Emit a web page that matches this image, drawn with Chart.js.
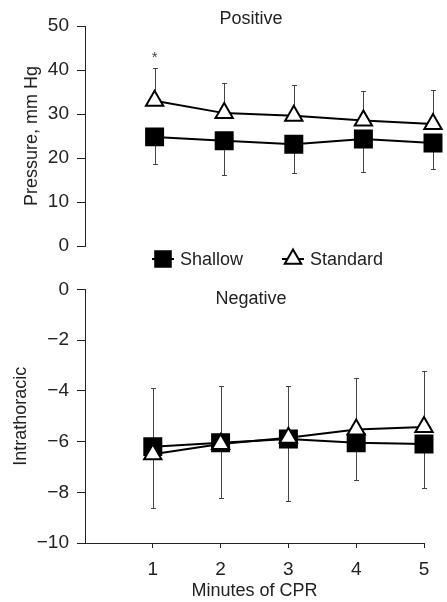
<!DOCTYPE html>
<html><head><meta charset="utf-8">
<script src="https://cdn.jsdelivr.net/npm/chart.js@4/dist/chart.umd.min.js"></script>
<style>
html,body{margin:0;padding:0;background:#fff;}
#wrap{position:relative;width:447px;height:602px;overflow:hidden;}
.box{position:absolute;left:0;width:447px;}
</style></head><body>
<div id="wrap">
<div class="box" style="top:0;height:270px"><canvas id="c1"></canvas></div>
<div class="box" style="top:270px;height:332px"><canvas id="c2"></canvas></div>
</div>
<script>
// ---- data ----
const minutes = [1, 2, 3, 4, 5];
const seriesNames = ['Shallow', 'Standard'];
const panelNames = ['Positive', 'Negative'];
const yTitles = ['Pressure, mm Hg', 'Intrathoracic'];
const xTitle = 'Minutes of CPR';

const posShallow      = [24.8, 23.9, 23.1, 24.3, 23.4];
const posShallowLow   = [18.6, 16.1, 16.7, 16.9, 17.4];
const posStandard     = [33.0, 30.2, 29.6, 28.5, 27.7];
const posStandardHigh = [40.5, 37.0, 36.7, 35.2, 35.5];

const negShallow      = [-6.2, -6.05, -5.9, -6.05, -6.1];
const negShallowLow   = [-8.63, -8.23, -8.33, -7.52, -7.82];
const negStandard     = [-6.5, -6.1, -5.85, -5.52, -5.43];
const negStandardHigh = [-3.9, -3.8, -3.8, -3.5, -3.2];

const posTicks = [0, 10, 20, 30, 40, 50];
const negTicks = [-10, -8, -6, -4, -2, 0];
const xTicks = [1, 2, 3, 4, 5];

// ---- setup ----
const FONT = '"Liberation Sans", Arial, Helvetica, sans-serif';
const INK = '#222';
Chart.defaults.font.family = FONT;
Chart.defaults.font.size = 18;
Chart.defaults.color = INK;
Chart.defaults.animation = false;

const pts = ys => minutes.map((m, i) => ({x: m, y: ys[i]}));
const fmt = v => String(v).replace('-', '\u2212');

function shallowDs(vals, err, order) {
  return {label: seriesNames[0], data: pts(vals), errorTo: err, order,
    borderColor: '#000', borderWidth: 2, tension: 0, clip: false,
    pointStyle: 'rect', pointRadius: 12, pointBackgroundColor: '#000',
    pointBorderColor: '#000', pointBorderWidth: 2, pointHoverRadius: 12};
}
function standardDs(vals, err, order) {
  return {label: seriesNames[1], data: pts(vals), errorTo: err, order,
    borderColor: '#000', borderWidth: 2, tension: 0, clip: false,
    pointStyle: 'triangle', pointRadius: 10, pointBackgroundColor: '#fff',
    pointBorderColor: '#000', pointBorderWidth: 2, pointHoverRadius: 10};
}

const errPlugin = {
  id: 'errbars',
  beforeDatasetsDraw(chart) {
    const ctx = chart.ctx, xs = chart.scales.x, ys = chart.scales.y;
    ctx.save();
    ctx.strokeStyle = '#444';
    ctx.lineWidth = 1;
    chart.data.datasets.forEach(ds => {
      ds.data.forEach((p, i) => {
        const x = Math.round(xs.getPixelForValue(p.x)) + 0.5;
        const y0 = ys.getPixelForValue(p.y);
        const y1 = Math.round(ys.getPixelForValue(ds.errorTo[i])) + 0.5;
        ctx.beginPath();
        ctx.moveTo(x, y0); ctx.lineTo(x, y1);
        ctx.moveTo(x - 2.5, y1); ctx.lineTo(x + 2.5, y1);
        ctx.stroke();
      });
    });
    ctx.restore();
  }
};

const panelPlugin = {
  id: 'panel',
  afterDraw(chart, args, opts) {
    const ctx = chart.ctx, ca = chart.chartArea;
    ctx.save();
    ctx.fillStyle = INK;
    ctx.font = '18px ' + FONT;
    ctx.textAlign = 'center';
    ctx.textBaseline = 'middle';
    ctx.fillText(opts.title, (ca.left + ca.right) / 2 + opts.dx, ca.top + opts.dy);
    if (opts.star) {
      const xs = chart.scales.x, ys = chart.scales.y;
      ctx.font = '15px ' + FONT;
      ctx.fillStyle = '#444';
      ctx.fillText('*', xs.getPixelForValue(minutes[0]), ys.getPixelForValue(posStandardHigh[0]) - 10);
    }
    if (opts.legend) {
      const ly = ca.bottom + 13;
      const items = [
        {x: ca.left + 78, ds: chart.data.datasets[0]},
        {x: ca.left + 208, ds: chart.data.datasets[1]}
      ];
      items.forEach(it => {
        const ds = it.ds;
        ctx.strokeStyle = '#000';
        ctx.lineWidth = 2;
        ctx.beginPath();
        ctx.moveTo(it.x - 11, ly); ctx.lineTo(it.x + 11, ly);
        ctx.stroke();
        ctx.fillStyle = ds.pointBackgroundColor;
        ctx.strokeStyle = ds.pointBorderColor;
        ctx.lineWidth = 2;
        Chart.helpers.drawPoint(ctx, {pointStyle: ds.pointStyle, radius: ds.pointStyle === 'rect' ? 11 : 9.5, borderWidth: 2, rotation: 0}, it.x, ly);
        ctx.fillStyle = INK;
        ctx.font = '18px ' + FONT;
        ctx.textAlign = 'left';
        ctx.fillText(ds.label, it.x + 17, ly + 1);
      });
    }
    ctx.restore();
  }
};

function yAxis(min, max, ticks, title, width, tpad) {
  return {
    type: 'linear', min, max,
    afterBuildTicks: s => { s.ticks = ticks.map(v => ({value: v})); },
    afterFit: s => { s.width = width; },
    grid: {display: true, drawOnChartArea: false, drawTicks: true, tickLength: 8, color: INK, lineWidth: 1},
    border: {display: true, color: INK, width: 1},
    ticks: {padding: 8, color: INK, font: {size: 19}, callback: v => fmt(v)},
    title: {display: true, text: title, color: INK, font: {size: 18}, padding: {top: tpad, bottom: 0}}
  };
}

new Chart(document.getElementById('c1'), {
  type: 'line',
  data: {datasets: [shallowDs(posShallow, posShallowLow, 0), standardDs(posStandard, posStandardHigh, 1)]},
  options: {
    responsive: true, maintainAspectRatio: false,
    layout: {padding: {top: 26, right: 14, bottom: 24, left: 0}},
    plugins: {legend: {display: false}, tooltip: {enabled: false},
      panel: {title: panelNames[0], dx: -8, dy: -7, star: true, legend: true}},
    scales: {
      x: {type: 'linear', min: 0, max: 5, display: false},
      y: yAxis(0, 50, posTicks, yTitles[0], 85, 21)
    }
  },
  plugins: [errPlugin, panelPlugin]
});

new Chart(document.getElementById('c2'), {
  type: 'line',
  data: {datasets: [shallowDs(negShallow, negShallowLow, 1), standardDs(negStandard, negStandardHigh, 0)]},
  options: {
    responsive: true, maintainAspectRatio: false,
    layout: {padding: {top: 15, right: 23, bottom: 0, left: 0}},
    plugins: {legend: {display: false}, tooltip: {enabled: false},
      panel: {title: panelNames[1], dx: -3.5, dy: 10, star: false, legend: false}},
    scales: {
      x: {
        type: 'linear', min: 0, max: 5,
        afterBuildTicks: s => { s.ticks = xTicks.map(v => ({value: v})); },
        afterFit: s => { s.height = 59; },
        grid: {display: true, drawOnChartArea: false, drawTicks: true, tickLength: 5, color: INK, lineWidth: 1},
        border: {display: true, color: INK, width: 1},
        ticks: {padding: 10, color: INK, font: {size: 19}, maxRotation: 0},
        title: {display: true, text: xTitle, color: INK, font: {size: 18}, padding: {top: 0, bottom: 0}}
      },
      y: yAxis(-10, 0, negTicks, yTitles[1], 85, 10)
    }
  },
  plugins: [errPlugin, panelPlugin]
});
</script>
</body></html>
